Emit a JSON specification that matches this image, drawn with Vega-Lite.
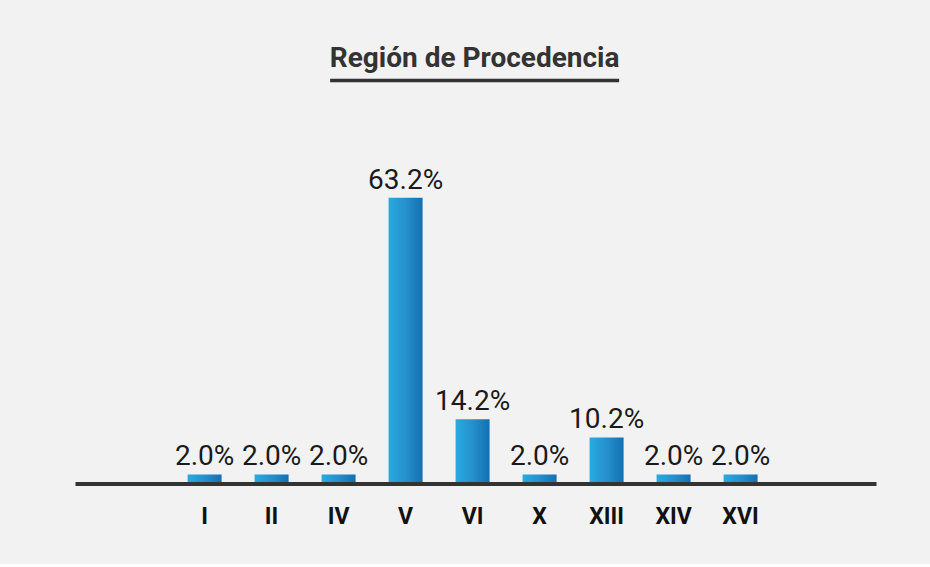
{
  "$schema": "https://vega.github.io/schema/vega-lite/v6.json",
  "background": "#f2f2f2",
  "padding": {"left": 75, "right": 54, "top": 45, "bottom": 35},
  "config": {"view": {"stroke": null}},
  "center": true,
  "spacing": 61.5,
  "vconcat": [
    {
      "width": 289,
      "height": 1,
      "title": {
        "text": "Región de Procedencia",
        "font": "Roboto",
        "fontSize": 28,
        "fontWeight": "bold",
        "color": "#333333",
        "baseline": "alphabetic",
        "offset": -16.5,
        "anchor": "middle"
      },
      "data": {"values": [{"underline": 0}]},
      "mark": {"type": "rule", "color": "#333333", "strokeWidth": 3.5},
      "encoding": {
        "y": {"field": "underline", "type": "quantitative", "axis": null}
      }
    },
    {
      "width": 801,
      "height": 339,
      "data": {
        "values": [
          {"region": "I", "share": 0.02},
          {"region": "II", "share": 0.02},
          {"region": "IV", "share": 0.02},
          {"region": "V", "share": 0.632},
          {"region": "VI", "share": 0.142},
          {"region": "X", "share": 0.02},
          {"region": "XIII", "share": 0.102},
          {"region": "XIV", "share": 0.02},
          {"region": "XVI", "share": 0.02}
        ]
      },
      "encoding": {
        "x": {
          "field": "region",
          "type": "nominal",
          "sort": null,
          "scale": {
            "domain": ["", "I", "II", "IV", "V", "VI", "X", "XIII", "XIV", "XVI", " "],
            "paddingInner": 0.4925,
            "paddingOuter": 0.724,
            "align": 0.47
          },
          "axis": {
            "title": null,
            "ticks": false,
            "domainColor": "#333333",
            "domainWidth": 4,
            "labelAngle": 0,
            "labelFont": "Roboto",
            "labelFontSize": 23,
            "labelFontWeight": "bold",
            "labelColor": "#111111",
            "labelPadding": 22,
            "labelBaseline": "top",
            "zindex": 1
          }
        },
        "y": {
          "field": "share",
          "type": "quantitative",
          "scale": {"domain": [0, 0.75]},
          "axis": null
        }
      },
      "layer": [
        {
          "mark": {
            "type": "bar",
            "color": {
              "gradient": "linear",
              "x1": 0, "y1": 0, "x2": 1, "y2": 0,
              "stops": [
                {"offset": 0, "color": "#27abe0"},
                {"offset": 0.5, "color": "#2590cd"},
                {"offset": 1, "color": "#1470b0"}
              ]
            }
          }
        },
        {
          "mark": {
            "type": "text",
            "font": "Roboto",
            "fontSize": 28,
            "color": "#1a1a1a",
            "baseline": "alphabetic",
            "dy": -9
          },
          "encoding": {
            "text": {"field": "share", "type": "quantitative", "format": ".1%"}
          }
        }
      ]
    }
  ]
}
